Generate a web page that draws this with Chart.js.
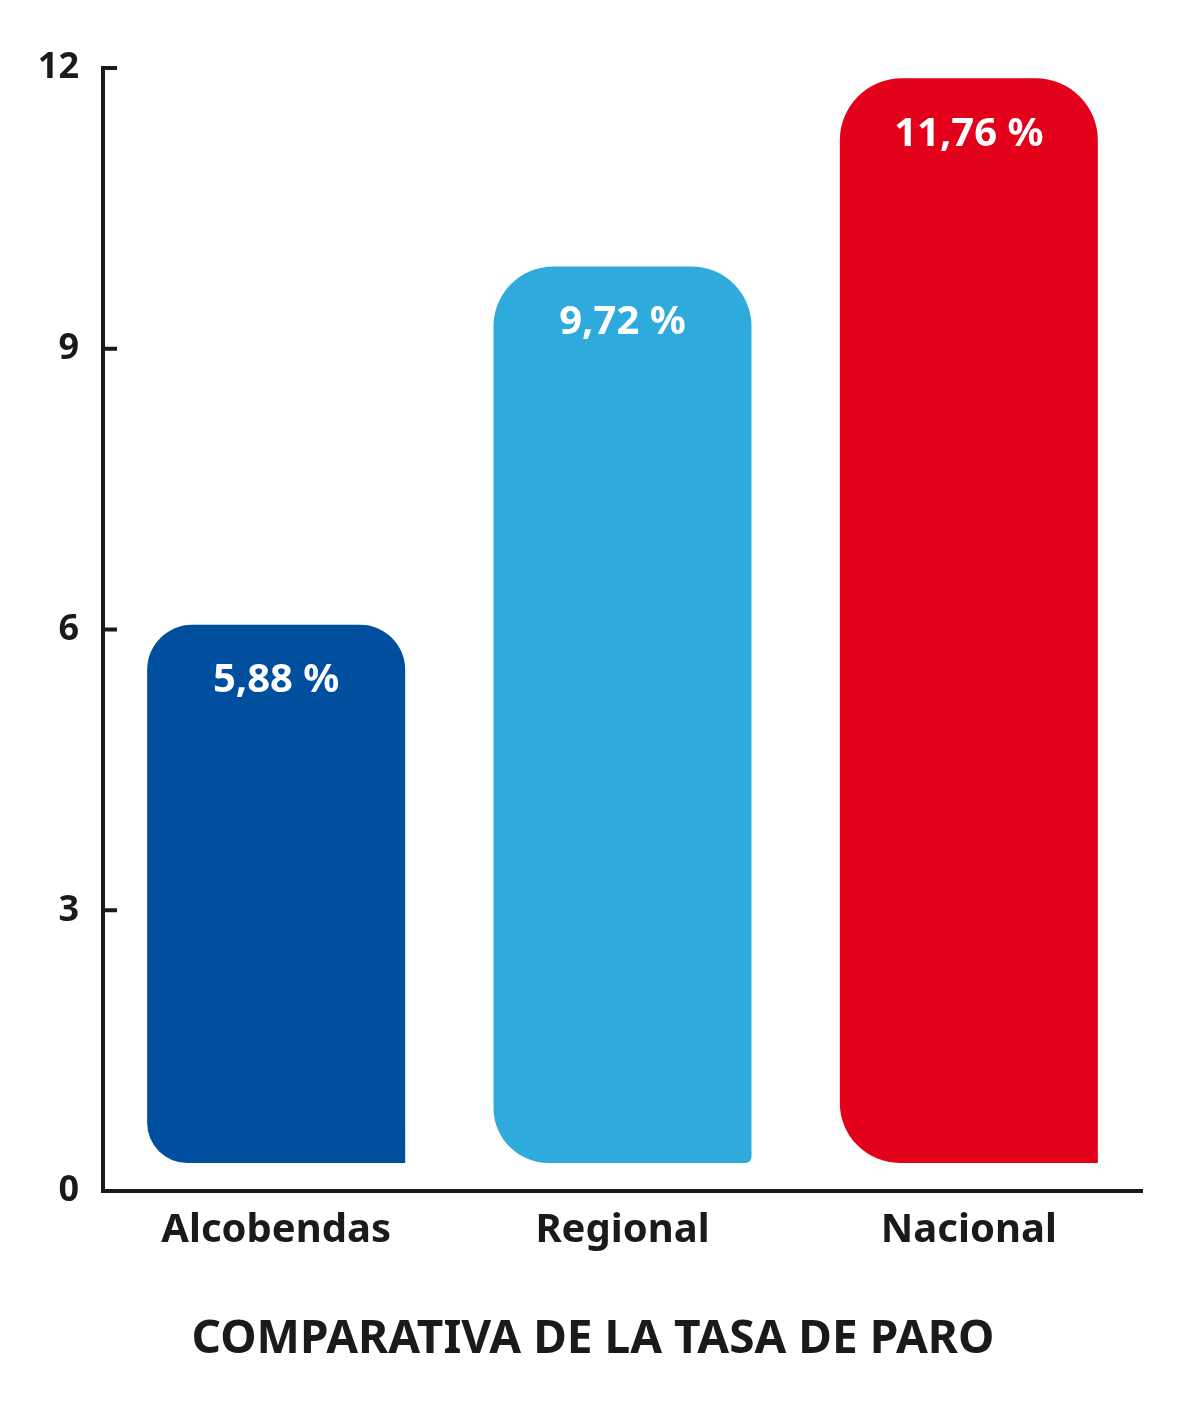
<!DOCTYPE html>
<html><head><meta charset="utf-8">
<script src="https://cdn.jsdelivr.net/npm/chart.js@4.4.1/dist/chart.umd.min.js"></script>
<style>html,body{margin:0;padding:0;background:#fff}#wrap{width:1181px;height:1424px}</style>
</head><body><div id="wrap"><canvas id="c"></canvas></div>
<script>
const categories = ["Alcobendas", "Regional", "Nacional"];
const rateLabels = ["5,88 %", "9,72 %", "11,76 %"];
const barBase = [0.3, 0.3, 0.3];
const barTop = [6.05, 9.88, 11.89];
const yTicks = [0, 3, 6, 9, 12];
const colors = ["#004f9e", "#2faadd", "#e2001a"];
const title = "COMPARATIVA DE LA TASA DE PARO";
const ink = "#1a1a1a";
const FONT = "'Noto Sans', sans-serif";

const extras = {
  id: 'extras',
  afterDatasetsDraw(chart) {
    const ctx = chart.ctx, y = chart.scales.y, meta = chart.getDatasetMeta(0);
    ctx.save();
    ctx.fillStyle = '#fff';
    ctx.font = "bold 40px " + FONT;
    ctx.textAlign = 'center'; ctx.textBaseline = 'middle';
    meta.data.forEach((b, i) => ctx.fillText(rateLabels[i], b.x, y.getPixelForValue(barTop[i]) + 56));
    ctx.strokeStyle = ink; ctx.lineWidth = 4;
    const ax = chart.chartArea.left;
    yTicks.forEach(t => { if (t === 0) return; const py = y.getPixelForValue(t); ctx.beginPath(); ctx.moveTo(ax - 2, py); ctx.lineTo(ax + 14, py); ctx.stroke(); });
    ctx.fillStyle = ink; ctx.font = "bold 46px " + FONT;
    ctx.fillText(title, 593, 1340);
    ctx.restore();
  }
};

new Chart(document.getElementById('c'), {
  type: 'bar',
  data: {
    labels: categories,
    datasets: [{
      data: categories.map((c, i) => [barBase[i], barTop[i]]),
      backgroundColor: colors,
      borderSkipped: false,
      borderRadius: [
        {topLeft: 45, topRight: 45, bottomLeft: 40, bottomRight: 0},
        {topLeft: 60, topRight: 60, bottomLeft: 55, bottomRight: 6},
        {topLeft: 62, topRight: 62, bottomLeft: 60, bottomRight: 0}
      ],
      barPercentage: 0.745, categoryPercentage: 1
    }]
  },
  options: {
    responsive: true, maintainAspectRatio: false, animation: false,
    layout: {padding: {top: 68, right: 39, left: 0, bottom: 0}},
    plugins: {legend: {display: false}, tooltip: {enabled: false}},
    scales: {
      x: {
        grid: {display: false}, border: {display: true, color: ink, width: 4},
        ticks: {color: ink, font: {family: FONT, weight: 'bold', size: 40}, padding: 8},
        afterFit(s) { s.height = 233; }
      },
      y: {
        min: 0, max: 12, afterBuildTicks(s) { s.ticks = yTicks.map(v => ({value: v})); },
        grid: {display: false}, border: {display: true, color: ink, width: 4},
        ticks: {color: ink, font: {family: FONT, weight: 'bold', size: 36}, padding: 16},
        afterFit(s) { s.width = 103; }
      }
    }
  },
  plugins: [extras]
});
</script></body></html>
